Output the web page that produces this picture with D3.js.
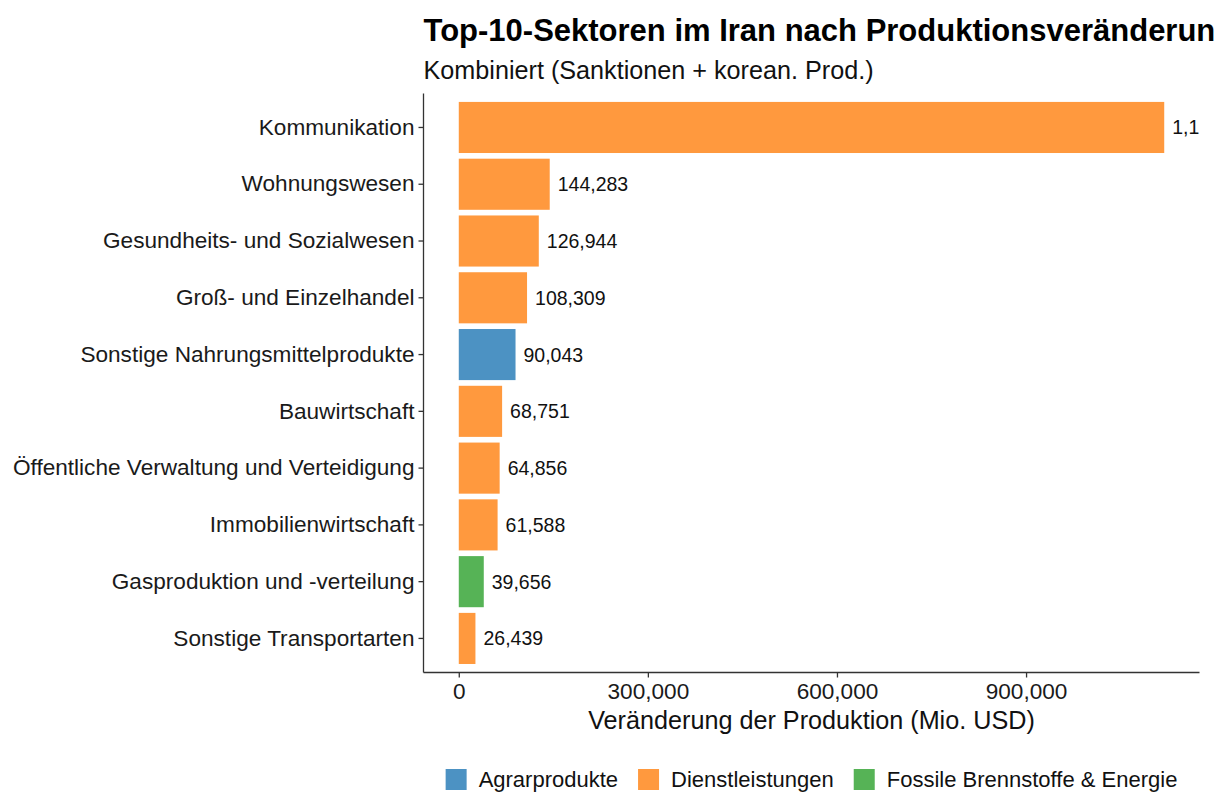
<!DOCTYPE html>
<html>
<head>
<meta charset="utf-8">
<script src="https://cdn.jsdelivr.net/npm/d3@7"></script>
<style>
  body { margin: 0; background: #fff; }
  text { font-family: "Liberation Sans", Arial, sans-serif; }
</style>
</head>
<body>
<svg id="chart"></svg>
<script>
// chart data
const sectors = ["Kommunikation", "Wohnungswesen", "Gesundheits- und Sozialwesen",
  "Groß- und Einzelhandel", "Sonstige Nahrungsmittelprodukte", "Bauwirtschaft",
  "Öffentliche Verwaltung und Verteidigung", "Immobilienwirtschaft",
  "Gasproduktion und -verteilung", "Sonstige Transportarten"];
const changes = [1119200, 144283, 126944, 108309, 90043, 68751, 64856, 61588, 39656, 26439];
const groups = ["Dienstleistungen", "Dienstleistungen", "Dienstleistungen", "Dienstleistungen",
  "Agrarprodukte", "Dienstleistungen", "Dienstleistungen", "Dienstleistungen",
  "Fossile Brennstoffe & Energie", "Dienstleistungen"];
const legendGroups = ["Agrarprodukte", "Dienstleistungen", "Fossile Brennstoffe & Energie"];
const groupColors = ["#4c92c3", "#ff993e", "#56b356"];
const xTicks = [0, 300000, 600000, 900000];

const width = 1223, height = 793;
const panel = { left: 423.5, right: 1199.5, top: 93.4, bottom: 672.5 };

let svg = d3.select('#chart').attr('width', width).attr('height', height);

let data = sectors.map((s, i) => ({ sector: s, value: changes[i], group: groups[i] }));

let maxVal = d3.max(changes);
let xScale = d3.scaleLinear()
  .domain([-0.05 * maxVal, 1.05 * maxVal])
  .range([panel.left, panel.right]);
let yScale = d3.scaleBand()
  .domain(sectors)
  .range([panel.top, panel.bottom])
  .paddingInner(0.1)
  .paddingOuter(0.15);
let color = d3.scaleOrdinal().domain(legendGroups).range(groupColors);

let plot = svg.append('g');

plot.selectAll('rect.bar')
  .data(data)
  .enter().append('rect')
  .attr('class', 'bar')
  .attr('x', xScale(0))
  .attr('y', d => yScale(d.sector))
  .attr('width', d => xScale(d.value) - xScale(0))
  .attr('height', yScale.bandwidth())
  .attr('fill', d => color(d.group));

let fmt = d3.format(',.0f');
let labels = plot.selectAll('text.val')
  .data(data)
  .enter().append('text')
  .attr('class', 'val')
  .attr('x', d => xScale(d.value) + 8)
  .attr('y', d => yScale(d.sector) + yScale.bandwidth() / 2)
  .attr('dy', '0.36em')
  .style('font-size', '19.5px')
  .style('fill', '#111')
  .text(d => fmt(d.value));

// panel clips the labels (like ggplot): drop characters past the right edge
labels.each(function(d) {
  let node = this, txt = fmt(d.value);
  let x0 = xScale(d.value) + 8;
  while (txt.length > 0 && x0 + node.getComputedTextLength() > panel.right) {
    txt = txt.slice(0, -1);
    node.textContent = txt;
  }
});

// axes
let xAxis = svg.append('g')
  .attr('transform', `translate(0,${panel.bottom})`)
  .call(d3.axisBottom(xScale).tickValues(xTicks).tickFormat(d3.format(',')).tickSizeOuter(0).tickSize(5).tickPadding(4));
let yAxis = svg.append('g')
  .attr('transform', `translate(${panel.left},0)`)
  .call(d3.axisLeft(yScale).tickSizeOuter(0).tickSize(5).tickPadding(4));

[xAxis, yAxis].forEach(ax => {
  ax.select('.domain').attr('stroke', '#333').attr('stroke-width', 1.3);
  ax.selectAll('.tick line').attr('stroke', '#333').attr('stroke-width', 1.3);
  ax.selectAll('.tick text')
    .style('font-size', '22.6px')
    .style('font-family', '"Liberation Sans", Arial, sans-serif')
    .attr('fill', '#1a1a1a');
});
// ggplot axis lines span the full panel
xAxis.select('.domain').attr('d', `M${panel.left},0H${panel.right}`);
yAxis.select('.domain').attr('d', `M0,${panel.top}V${panel.bottom}`);
xAxis.selectAll('.tick text').attr('dy', '0.78em');

// axis title
svg.append('text')
  .attr('x', (panel.left + panel.right) / 2)
  .attr('y', 729)
  .attr('text-anchor', 'middle')
  .style('font-size', '25.2px')
  .style('fill', '#111')
  .text('Veränderung der Produktion (Mio. USD)');

// title + subtitle (title is cut at the page edge in the original)
svg.append('text')
  .attr('x', panel.left)
  .attr('y', 41)
  .style('font-size', '31px')
  .style('font-weight', 'bold')
  .style('fill', '#000')
  .text('Top-10-Sektoren im Iran nach Produktionsveränderun');
svg.append('text')
  .attr('x', panel.left)
  .attr('y', 79)
  .style('font-size', '25.2px')
  .style('fill', '#111')
  .text('Kombiniert (Sanktionen + korean. Prod.)');

// legend, centred under the panel
let legend = svg.append('g');
let keySize = 21, keyGap = 12, itemGap = 20;
let items = legend.selectAll('g')
  .data(legendGroups)
  .enter().append('g');
items.append('rect')
  .attr('width', keySize).attr('height', keySize)
  .attr('y', 769)
  .attr('fill', d => color(d));
items.append('text')
  .attr('x', keySize + keyGap)
  .attr('y', 787)
  .style('font-size', '22px')
  .style('fill', '#111')
  .text(d => d);
let offsets = [], pos = 0;
items.each(function() {
  offsets.push(pos);
  pos += keySize + keyGap + d3.select(this).select('text').node().getComputedTextLength() + itemGap;
});
let totalW = pos - itemGap;
let startX = (panel.left + panel.right) / 2 - totalW / 2;
items.attr('transform', (d, i) => `translate(${startX + offsets[i]},0)`);
</script>
</body>
</html>
